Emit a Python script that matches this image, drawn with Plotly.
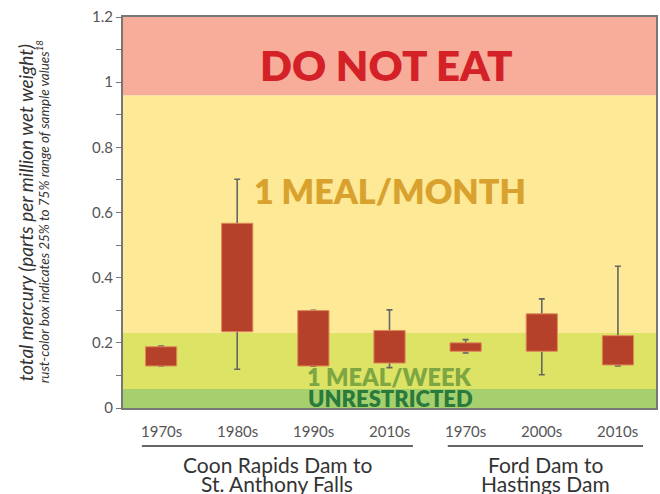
import plotly.graph_objects as go

# ---- data ----
decades = ["1970s", "1980s", "1990s", "2010s", "1970s", "2000s", "2010s"]
groups = [["Coon Rapids Dam to", "St. Anthony Falls"], ["Ford Dam to", "Hastings Dam"]]
q1 = [0.129, 0.234, 0.129, 0.138, 0.174, 0.174, 0.132]
q3 = [0.188, 0.567, 0.299, 0.238, 0.200, 0.289, 0.222]
lo = [0.129, 0.119, 0.128, 0.124, 0.169, 0.102, 0.129]
hi = [0.190, 0.702, 0.300, 0.301, 0.210, 0.335, 0.435]
band_edges = [0, 0.058, 0.23, 0.96, 1.2]
band_names = ["UNRESTRICTED", "1 MEAL/WEEK", "1 MEAL/MONTH", "DO NOT EAT"]

# ---- style ----
FONT = "Lato"
band_colors = ["#a6d06e", "#dce365", "#fde996", "#f7ad9a"]
xs = list(range(len(decades)))
L, T, PW, PH = 123, 17, 535.0, 391.0


def py(px):  # pixel y -> paper y
    return (T + PH - px) / PH


def pxp(px):  # pixel x -> paper x
    return (px - L) / PW


fig = go.Figure()

# whiskers (base subplot, drawn below the boxes)
fig.add_trace(go.Scatter(
    x=xs, y=lo, mode="markers", marker=dict(size=1, color="rgba(0,0,0,0)"),
    error_y=dict(type="data", symmetric=False,
                 array=[h - l for h, l in zip(hi, lo)],
                 arrayminus=[0] * len(lo),
                 color="#666666", thickness=1.6, width=3),
    hoverinfo="skip", showlegend=False))

# boxes on an overlaying x-axis so they sit on top of whiskers
fig.add_trace(go.Bar(
    x=xs, y=[b - a for a, b in zip(q1, q3)], base=q1,
    width=0.41, xaxis="x2", yaxis="y",
    marker=dict(color="#b5412b", line=dict(color="#e08a58", width=1)),
    showlegend=False))

# bands
for i in range(len(band_names)):
    fig.add_shape(type="rect", xref="paper", yref="y", x0=0, x1=1,
                  y0=band_edges[i], y1=band_edges[i + 1],
                  fillcolor=band_colors[i], line_width=0, layer="below")

# band labels
band_label_style = [
    dict(x=pxp(392), y=0.030, size=22, color="#2a7a3b"),
    dict(x=pxp(390), y=0.096, size=23.5, color="#7ea743"),
    dict(x=pxp(391), y=0.669, size=34, color="#d9a22f"),
    dict(x=pxp(387), y=1.054, size=42, color="#d42128"),
]
for name, st in zip(band_names, band_label_style):
    fig.add_annotation(text=name, xref="paper", yref="y", x=st["x"], y=st["y"],
                       showarrow=False, xanchor="center", yanchor="middle",
                       font=dict(family=FONT, size=st["size"], color=st["color"], weight=800))

# decade labels
for lab, x in zip(decades, xs):
    fig.add_annotation(text=lab, xref="x", yref="paper", x=x, y=py(430.5),
                       showarrow=False, xanchor="center", yanchor="middle",
                       font=dict(family=FONT, size=15, color="#555555"))

# group lines and labels
group_spans = [(142, 414), (449, 645)]
for g, (a, b) in zip(groups, group_spans):
    fig.add_shape(type="line", xref="paper", yref="paper",
                  x0=pxp(a), x1=pxp(b), y0=py(446), y1=py(446),
                  line=dict(color="#333333", width=1.5))
    for line_text, ypx in zip(g, [464, 483.5]):
        fig.add_annotation(text=line_text, xref="paper", yref="paper", x=pxp((a + b) / 2),
                           y=py(ypx), showarrow=False, xanchor="center",
                           yanchor="middle",
                           font=dict(family=FONT, size=21, color="#333333"))

# y-axis titles
fig.add_annotation(text="<i>total mercury (parts per million wet weight)</i>",
                   xref="paper", yref="paper", x=pxp(25), y=py(213),
                   textangle=-90, showarrow=False, xanchor="center", yanchor="middle",
                   font=dict(family=FONT, size=19, color="#333333"))
fig.add_annotation(text="<i>rust-color box indicates 25% to 75% range of sample values<sup>18</sup></i>",
                   xref="paper", yref="paper", x=pxp(43), y=py(212),
                   textangle=-90, showarrow=False, xanchor="center", yanchor="middle",
                   font=dict(family=FONT, size=13.5, color="#333333"))

fig.update_layout(
    width=660, height=494,
    margin=dict(l=L, r=2, t=T, b=86),
    paper_bgcolor="white", plot_bgcolor="white",
    barmode="overlay", showlegend=False,
    font=dict(family=FONT),
    xaxis=dict(range=[-0.5, 6.5], showticklabels=False, ticks="", showgrid=False,
               zeroline=False, showline=True, linecolor="#777777", linewidth=2, mirror=True),
    xaxis2=dict(range=[-0.5, 6.5], overlaying="x", visible=False),
    yaxis=dict(range=[0, 1.2], tickvals=[0, 0.2, 0.4, 0.6, 0.8, 1, 1.2],
               ticktext=["0", "0.2", "0.4", "0.6", "0.8", "1", "1.2"],
               ticks="outside", ticklen=5, tickcolor="#777777", tickwidth=1,
               minor=dict(tickvals=[0.1, 0.3, 0.5, 0.7, 0.9, 1.1], ticks="outside",
                          ticklen=5, tickcolor="#777777"),
               tickfont=dict(family=FONT, size=15, color="#555555"),
               showgrid=False, zeroline=False, showline=True, linecolor="#777777",
               linewidth=2, mirror=True),
)

fig.write_html("out.html", config={"displayModeBar": False},
               post_script="document.body.style.margin='0';document.body.style.overflow='hidden';")
